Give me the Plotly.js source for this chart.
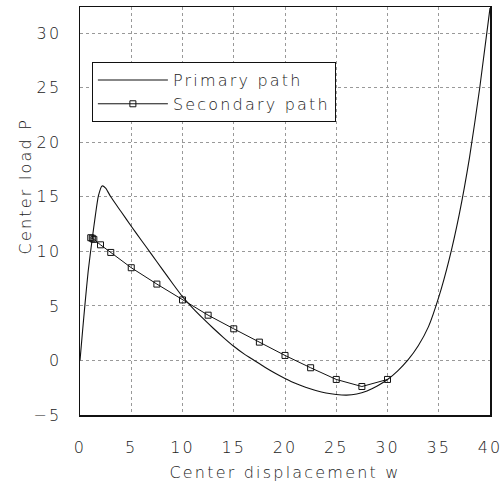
<!DOCTYPE html>
<html>
<head>
<meta charset="utf-8">
<script src="https://cdn.plot.ly/plotly-3.0.1.min.js"></script>
<style>
  html, body { margin: 0; padding: 0; background: #fff; }
  #chart { width: 503px; height: 487px; }
  svg text { letter-spacing: 2.2px; }
</style>
</head>
<body>
<div id="chart"></div>
<script>
// Primary path (center displacement w, center load P)
const primaryW = [0, 0.25, 0.5, 0.8, 1.2, 1.5, 1.8, 2.15, 2.5, 3, 4, 5, 6, 7, 8, 9, 10, 11, 12, 13, 14, 15, 16, 17, 18, 19, 20, 21, 22, 23, 24, 25, 26, 27, 28, 29, 30, 31, 32, 33, 34, 35, 36, 37, 38, 39, 40];
const primaryP = [0, 2.7, 5.3, 8.2, 11.2, 13.3, 15.1, 16.0, 15.8, 15.0, 13.65, 12.3, 11.0, 9.7, 8.4, 7.1, 5.85, 4.8, 3.85, 2.95, 2.1, 1.3, 0.6, 0.0, -0.6, -1.15, -1.65, -2.1, -2.45, -2.75, -2.98, -3.12, -3.18, -3.08, -2.8, -2.35, -1.75, -0.95, 0.05, 1.35, 3.1, 5.8, 9.2, 13.4, 18.6, 25.0, 32.3];

// Secondary path
const secondaryW = [1.05, 1.2, 1.35, 2, 3, 5, 7.5, 10, 12.5, 15, 17.5, 20, 22.5, 25, 27.5, 30];
const secondaryP = [11.25, 11.2, 11.1, 10.6, 9.9, 8.5, 7.0, 5.55, 4.15, 2.9, 1.68, 0.46, -0.67, -1.74, -2.39, -1.74];

const xTicks = [0, 5, 10, 15, 20, 25, 30, 35, 40];
const yTicks = [-5, 0, 5, 10, 15, 20, 25, 30];

const FONT = "DejaVu Sans, sans-serif";
const TXT = "#222";

const traces = [
  {
    x: primaryW, y: primaryP, name: "Primary path",
    type: "scatter", mode: "lines",
    line: { color: "#111", width: 1.1, shape: "spline", smoothing: 0.6 }
  },
  {
    x: secondaryW, y: secondaryP, name: "Secondary path",
    type: "scatter", mode: "lines+markers",
    line: { color: "#111", width: 1 },
    marker: { symbol: "square-open", size: 6, color: "#111", line: { width: 1, color: "#111" } }
  }
];

const axisCommon = {
  showline: true, mirror: true, linecolor: "#111", linewidth: 1.5,
  showgrid: true, gridcolor: "#999", gridwidth: 1, griddash: "dot",
  zeroline: false, ticks: "",
  tickfont: { family: FONT, size: 16, color: TXT, weight: 300 }
};

const layout = {
  width: 503, height: 487,
  margin: { l: 80, r: 13, t: 7, b: 72 },
  paper_bgcolor: "#fff", plot_bgcolor: "#fff",
  showlegend: true,
  legend: {
    x: 0.029, y: 0.865, xanchor: "left", yanchor: "top",
    bgcolor: "#fff", bordercolor: "#111", borderwidth: 1,
    font: { family: FONT, size: 16, color: TXT, weight: 300 },
    itemwidth: 70, tracegroupgap: 0
  },
  xaxis: Object.assign({}, axisCommon, {
    range: [0, 40], tickvals: xTicks, ticktext: xTicks.map(String),
    ticklabelstandoff: 17,
    title: { text: "Center displacement w", font: { family: FONT, size: 16, color: TXT, weight: 300 }, standoff: 11 }
  }),
  yaxis: Object.assign({}, axisCommon, {
    range: [-5, 32.4], tickvals: yTicks, ticktext: yTicks.map(v => v < 0 ? "\u2212" + Math.abs(v) : String(v)),
    ticklabelstandoff: 14
  }),
  annotations: [
    {
      text: "Center load P", xref: "paper", yref: "paper",
      x: -0.132, y: 0.56, xanchor: "center", yanchor: "middle",
      textangle: -90, showarrow: false,
      font: { family: FONT, size: 16, color: TXT, weight: 300 }
    }
  ]
};

Plotly.newPlot("chart", traces, layout, { displayModeBar: false, staticPlot: true });
</script>
</body>
</html>
